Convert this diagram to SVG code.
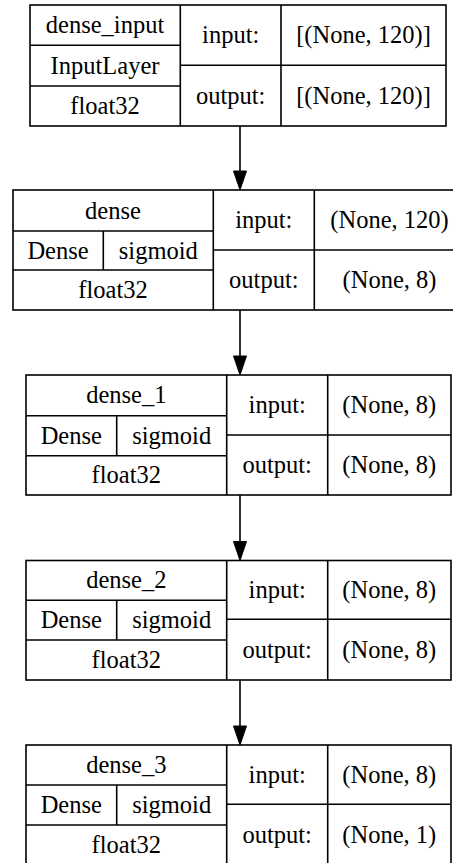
<svg xmlns="http://www.w3.org/2000/svg" xmlns:xlink="http://www.w3.org/1999/xlink" width="453" height="863" viewBox="0 0 453 863">
<style>
.b{fill:#fff;stroke:#000;stroke-width:1.6}
.l{stroke:#000;stroke-width:1.6;fill:none}
.t{font-family:'Liberation Serif','Times New Roman',Times,serif;font-size:24.5px;text-anchor:middle;fill:#000}
.ah{fill:#000;stroke:#000;stroke-width:1}
</style>
<defs>
<path id="arrow" class="ah" d="M-6.5,-19 L6.5,-19 L0,0 Z"/>
</defs>
<rect width="453" height="863" fill="#fff"/>
<g id="connectors">
<line class="l" x1="240" y1="126" x2="240" y2="172"/>
<use href="#arrow" xlink:href="#arrow" x="240" y="190"/>
<line class="l" x1="240" y1="310" x2="240" y2="357"/>
<use href="#arrow" xlink:href="#arrow" x="240" y="375"/>
<line class="l" x1="240" y1="495" x2="240" y2="542"/>
<use href="#arrow" xlink:href="#arrow" x="240" y="560.5"/>
<line class="l" x1="240" y1="680" x2="240" y2="727"/>
<use href="#arrow" xlink:href="#arrow" x="240" y="745"/>
</g>
<g id="dense_input" class="t">
<rect class="b" x="30" y="5" width="416" height="121"/>
<path class="l" d="M180.3,5V126M281,5V126M30,45.3H180.3M30,86H180.3M180.3,65.3H446"/>
<text x="105" y="33">dense_input</text>
<text x="105" y="73.5">InputLayer</text>
<text x="105" y="114">float32</text>
<text x="230.7" y="43">input:</text>
<text x="230.7" y="103.5">output:</text>
<text x="363.5" y="43">[(None, 120)]</text>
<text x="363.5" y="103.5">[(None, 120)]</text>
</g>
<g id="dense" class="t">
<rect class="b" x="13" y="190" width="452" height="120"/>
<path class="l" d="M213.3,190V310M314.3,190V310M13,231H213.3M13,270H213.3M103.3,231V270M213.3,250H465"/>
<text x="113" y="218.5">dense</text>
<text x="58" y="258.5">Dense</text>
<text x="158.3" y="258.5">sigmoid</text>
<text x="113" y="298">float32</text>
<text x="263.8" y="228">input:</text>
<text x="263.8" y="288">output:</text>
<text x="389.5" y="228">(None, 120)</text>
<text x="389.5" y="288">(None, 8)</text>
</g>
<g id="dense_1" class="t">
<rect class="b" x="26" y="375" width="425" height="120"/>
<path class="l" d="M226.7,375V495M327.7,375V495M26,415.7H226.7M26,455.7H226.7M116.7,415.7V455.7M226.7,435H451"/>
<text x="126.3" y="403.3">dense_1</text>
<text x="71.3" y="443.7">Dense</text>
<text x="171.7" y="443.7">sigmoid</text>
<text x="126.3" y="483.3">float32</text>
<text x="277.2" y="413">input:</text>
<text x="277.2" y="473">output:</text>
<text x="389.3" y="413">(None, 8)</text>
<text x="389.3" y="473">(None, 8)</text>
</g>
<g id="dense_2" class="t">
<rect class="b" x="26" y="560.5" width="425" height="119.5"/>
<path class="l" d="M226.7,560.5V680M327.7,560.5V680M26,600.3H226.7M26,640H226.7M116.7,600.3V640M226.7,619.3H451"/>
<text x="126.3" y="588.4">dense_2</text>
<text x="71.3" y="628.2">Dense</text>
<text x="171.7" y="628.2">sigmoid</text>
<text x="126.3" y="668">float32</text>
<text x="277.2" y="598">input:</text>
<text x="277.2" y="657.7">output:</text>
<text x="389.3" y="598">(None, 8)</text>
<text x="389.3" y="657.7">(None, 8)</text>
</g>
<g id="dense_3" class="t">
<rect class="b" x="26" y="745" width="425" height="120"/>
<path class="l" d="M226.7,745V865M327.7,745V865M26,785H226.7M26,825H226.7M116.7,785V825M226.7,804.3H451"/>
<text x="126.3" y="773">dense_3</text>
<text x="71.3" y="813">Dense</text>
<text x="171.7" y="813">sigmoid</text>
<text x="126.3" y="853">float32</text>
<text x="277.2" y="782.7">input:</text>
<text x="277.2" y="842.7">output:</text>
<text x="389.3" y="782.7">(None, 8)</text>
<text x="389.3" y="842.7">(None, 1)</text>
</g>
</svg>
